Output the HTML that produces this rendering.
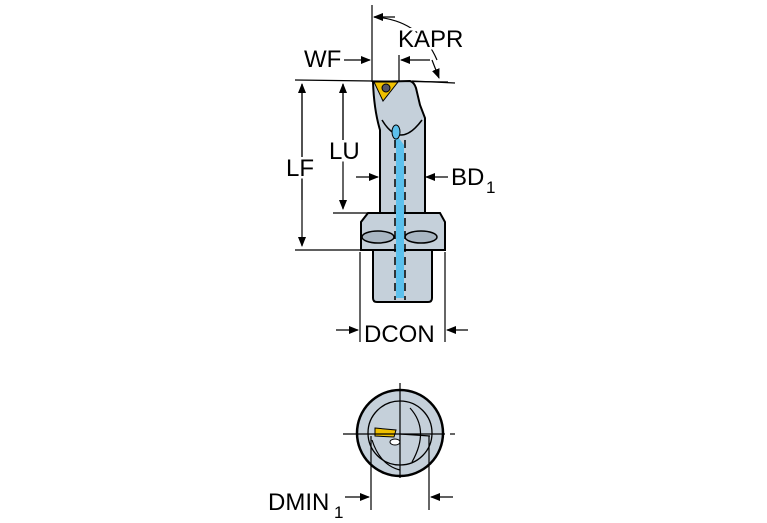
<!DOCTYPE html>
<html><head><style>
html,body{margin:0;padding:0;background:#fff;}
svg{display:block;}
text{font-family:"Liberation Sans",sans-serif;fill:#000;}
.bg{stroke:#fff;stroke-width:5;paint-order:stroke;}
</style></head><body>
<svg width="767" height="523" viewBox="0 0 767 523" xmlns="http://www.w3.org/2000/svg">
<defs>
<marker id="a" markerWidth="10" markerHeight="8" refX="9" refY="4" orient="auto" markerUnits="userSpaceOnUse"><path d="M0,0 L10,4 L0,8 Z" fill="#000"/></marker>
</defs>
<g stroke="#000" stroke-width="1.2" fill="none">
<line x1="372" y1="5" x2="372" y2="82"/>
<line x1="399" y1="55" x2="399" y2="82"/>
<line x1="295" y1="80" x2="448" y2="82"/>
<line x1="412" y1="81" x2="455" y2="83"/>
<path d="M374,17 Q420,20 437,60" />
<line x1="333" y1="213" x2="382" y2="213"/>
<line x1="295" y1="250" x2="362" y2="250"/>
<line x1="360" y1="252" x2="360" y2="342"/>
<line x1="445" y1="252" x2="445" y2="342"/>
<line x1="302" y1="84" x2="302" y2="246" marker-end="url(#a)"/>
<line x1="302" y1="200" x2="302" y2="84" marker-end="url(#a)"/>
<line x1="343" y1="84" x2="343" y2="209" marker-end="url(#a)"/>
<line x1="343" y1="160" x2="343" y2="84" marker-end="url(#a)"/>
<line x1="344" y1="60" x2="370" y2="60" marker-end="url(#a)"/>
<line x1="430" y1="60" x2="401" y2="60" marker-end="url(#a)"/>
<line x1="356" y1="177" x2="378" y2="177" marker-end="url(#a)"/>
<line x1="448" y1="177" x2="426" y2="177" marker-end="url(#a)"/>
<line x1="336" y1="330" x2="358" y2="330" marker-end="url(#a)"/>
<line x1="468" y1="330" x2="447" y2="330" marker-end="url(#a)"/>
<line x1="395" y1="17" x2="374" y2="17" marker-end="url(#a)"/>
<line x1="432" y1="60" x2="439" y2="78" marker-end="url(#a)"/>
</g>
<g stroke="#000" stroke-width="2" fill="#c5d0da">
<path d="M373,250 L432,250 L432,298 Q432,302 428,302 L377,302 Q373,302 373,298 Z"/>
<path d="M368,213 L440,213 L445,222 L445,250 L361,250 L361,222 Z"/>
<path d="M380,213 L380,130 Q374,110 373,82 L410,81 Q414,82 416,88 L420,105 L425,118 L425,213 Z"/>
</g>
<g stroke="#000" stroke-width="1.5" fill="#a9b6c2">
<ellipse cx="378" cy="237" rx="16" ry="6"/>
<ellipse cx="421" cy="237" rx="16" ry="6"/>
</g>
<path d="M382,120 Q400,150 422,120" stroke="#000" stroke-width="1.5" fill="none"/>
<path d="M393,130 L404,145 L404,298 L396,298 L396,148 Z" fill="#5cc0ec"/>
<ellipse cx="396" cy="132" rx="4" ry="7" fill="#5cc0ec" stroke="#000" stroke-width="1"/>
<g stroke="#000" stroke-width="1.5" stroke-dasharray="8,5">
<line x1="395" y1="140" x2="395" y2="300"/>
<line x1="405" y1="140" x2="405" y2="300"/>
</g>
<path d="M374,82 L398,82 L383,101 Z" fill="#f0c000" stroke="#000" stroke-width="1"/>
<circle cx="386" cy="88" r="4" fill="#556" stroke="#000" stroke-width="1"/>
<text x="398" y="47" font-size="24" class="bg">KAPR</text>
<text x="304" y="67" font-size="24">WF</text>
<text x="286" y="176" font-size="24" class="bg">LF</text>
<text x="329" y="159" font-size="24" class="bg">LU</text>
<text x="451" y="185" font-size="24">BD</text>
<text x="486" y="193" font-size="17">1</text>
<text x="364" y="342" font-size="24">DCON</text>
<text x="268" y="510" font-size="24">DMIN</text>
<text x="334" y="518" font-size="17">1</text>
<circle cx="400" cy="433" r="43" fill="#c5d0da" stroke="#000" stroke-width="2.5"/>
<circle cx="400" cy="433" r="32" fill="none" stroke="#000" stroke-width="1.3"/>
<path d="M410,408 Q430,430 412,462" fill="none" stroke="#000" stroke-width="1.2"/>
<path d="M372,440 Q380,465 400,470" fill="none" stroke="#000" stroke-width="1.2"/>
<path d="M375,428 L396,430 L394,437 L375,436 Z" fill="#f0c000" stroke="#000" stroke-width="1"/>
<ellipse cx="395" cy="442" rx="5" ry="3" fill="#fff" stroke="#000" stroke-width="1"/>
<g stroke="#000" stroke-width="1.2">
<line x1="343" y1="434" x2="445" y2="434"/>
<line x1="450" y1="434" x2="455" y2="434"/>
<line x1="400" y1="383" x2="400" y2="478"/>
<line x1="400" y1="434" x2="430" y2="436"/>
<line x1="371" y1="436" x2="371" y2="510"/>
<line x1="429" y1="436" x2="429" y2="510"/>
<line x1="345" y1="497" x2="369" y2="497" marker-end="url(#a)"/>
<line x1="453" y1="497" x2="431" y2="497" marker-end="url(#a)"/>
</g>
</svg>
</body></html>
